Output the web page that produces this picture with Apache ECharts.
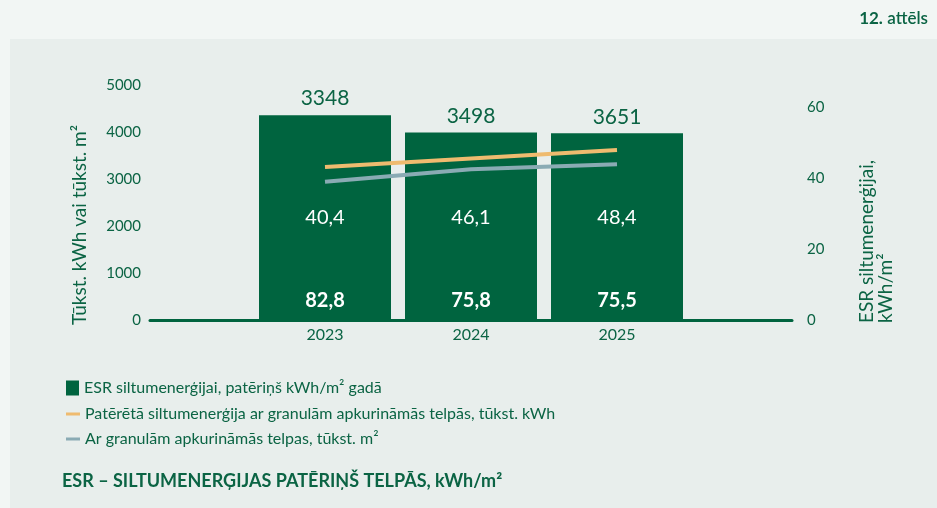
<!DOCTYPE html>
<html>
<head>
<meta charset="utf-8">
<script src="https://cdn.jsdelivr.net/npm/echarts@6/dist/echarts.min.js"></script>
<style>
  html, body { margin: 0; padding: 0; background: #f2f6f4; }
  #chart { width: 937px; height: 508px; }
</style>
</head>
<body>
<div id="chart"></div>
<script>
const years = ['2023', '2024', '2025'];
const heatPerM2 = [82.8, 75.8, 75.5];      // ESR siltumenerģijai, kWh/m² gadā
const heatTotal = [3348, 3498, 3651];      // tūkst. kWh
const heatedArea = [40.4, 46.1, 48.4];     // tūkst. m²
const leftTicks = [0, 5000, 1000];
const rightTicks = [0, 60, 20];

const GREEN = '#00643f';
const TEXT = '#0b6444';
const ORANGE = '#efbb6f';
const GREY = '#8aabb4';
const FONT = 'Lato';

const names = {
  bar: 'ESR siltumenerģijai, patēriņš kWh/m² gadā',
  kwh: 'Patērētā siltumenerģija ar granulām apkurināmās telpās, tūkst. kWh',
  area: 'Ar granulām apkurināmās telpas, tūkst. m²'
};

const comma = v => v.toFixed(1).replace('.', ',');

const chart = echarts.init(document.getElementById('chart'), null, { renderer: 'canvas' });

chart.setOption({
  backgroundColor: '#f2f6f4',
  animation: false,
  textStyle: { fontFamily: FONT },
  title: [{
    text: 'ESR – SILTUMENERĢIJAS PATĒRIŅŠ TELPĀS, kWh/m²',
    left: 57, top: 467,
    textStyle: { fontFamily: FONT, fontSize: 18, fontWeight: 'bold', color: TEXT }
  }, {
    text: '{b|12.} {n|attēls}',
    right: 4, top: 5,
    textStyle: {
      rich: {
        b: { fontFamily: FONT, fontSize: 17, fontWeight: 'bold', color: TEXT },
        n: { fontFamily: FONT, fontSize: 17, fontWeight: 600, color: TEXT }
      }
    }
  }],
  graphic: [{
    type: 'rect', z: -10, silent: true,
    shape: { x: 10, y: 39, width: 927, height: 469 },
    style: { fill: '#e8eeec' }
  }, {
    type: 'text', x: 80, y: 325, rotation: Math.PI / 2,
    style: { text: 'Tūkst. kWh vai tūkst. m²', fill: TEXT, font: '19px ' + FONT, align: 'left', verticalAlign: 'middle' }
  }, {
    type: 'text', x: 867, y: 323, rotation: Math.PI / 2,
    style: { text: 'ESR siltumenerģijai,', fill: TEXT, font: '19px ' + FONT, align: 'left', verticalAlign: 'middle' }
  }, {
    type: 'text', x: 886, y: 323, rotation: Math.PI / 2,
    style: { text: 'kWh/m²', fill: TEXT, font: '19px ' + FONT, align: 'left', verticalAlign: 'middle' }
  }],
  legend: [{
    data: [names.bar],
    orient: 'vertical', left: 61, top: 375,
    itemWidth: 13, itemHeight: 15, icon: 'rect',
    textStyle: { fontFamily: FONT, fontSize: 16, color: TEXT },
    selectedMode: false
  }, {
    data: [names.kwh, names.area],
    orient: 'vertical', left: 61, top: 400,
    itemWidth: 14, itemHeight: 3, itemGap: 7, icon: 'rect',
    textStyle: { fontFamily: FONT, fontSize: 16, color: TEXT, lineHeight: 18 },
    selectedMode: false
  }],
  grid: [
    { left: 150, right: 145, top: 85, bottom: 188 },
    { left: 252, right: 247, top: 85, bottom: 188 }
  ],
  xAxis: [{
    gridIndex: 0, type: 'value', min: 0, max: 1,
    axisLine: { show: true, lineStyle: { color: GREEN, width: 3 } },
    axisTick: { show: false }, axisLabel: { show: false }, splitLine: { show: false }
  }, {
    gridIndex: 1, type: 'category', data: years,
    axisLine: { show: false }, axisTick: { show: false },
    axisLabel: { color: TEXT, fontSize: 16, margin: 7, fontFamily: FONT }
  }],
  yAxis: [{
    gridIndex: 0, type: 'value', position: 'left',
    min: leftTicks[0], max: leftTicks[1], interval: leftTicks[2],
    axisLine: { show: false }, axisTick: { show: false }, splitLine: { show: false },
    axisLabel: { color: TEXT, fontSize: 15, margin: 9, fontFamily: FONT, formatter: v => String(v) }
  }, {
    gridIndex: 0, type: 'value', position: 'right',
    min: rightTicks[0], max: 66.2, interval: rightTicks[2],
    axisLine: { show: false }, axisTick: { show: false }, splitLine: { show: false },
    axisLabel: { color: TEXT, fontSize: 15, margin: 15, fontFamily: FONT, showMaxLabel: false }
  }, {
    gridIndex: 1, type: 'value', show: false, min: 0, max: 95
  }, {
    gridIndex: 1, type: 'value', show: false, min: 600, max: 4820
  }, {
    gridIndex: 1, type: 'value', show: false, min: -22.4, max: 84.4
  }],
  series: [{
    name: names.bar, type: 'bar',
    xAxisIndex: 1, yAxisIndex: 2,
    data: heatPerM2, barWidth: 132,
    itemStyle: { color: GREEN },
    label: {
      show: true, position: 'insideBottom', distance: 9,
      color: '#fff', fontSize: 20, fontWeight: 'bold', fontFamily: FONT,
      formatter: p => comma(p.value)
    }
  }, {
    name: 'areaLabels', type: 'bar',
    xAxisIndex: 1, yAxisIndex: 2,
    data: heatPerM2, barWidth: 132, barGap: '-100%', silent: true,
    itemStyle: { color: 'rgba(0,0,0,0)' },
    label: {
      show: true, position: 'insideBottom', distance: 92,
      color: '#fff', fontSize: 20, fontFamily: FONT,
      formatter: p => comma(heatedArea[p.dataIndex])
    }
  }, {
    name: 'kwhLabels', type: 'bar',
    xAxisIndex: 1, yAxisIndex: 2,
    data: heatPerM2, barWidth: 132, barGap: '-100%', silent: true,
    itemStyle: { color: 'rgba(0,0,0,0)' },
    label: {
      show: true, position: 'top', distance: 6,
      color: TEXT, fontSize: 21, fontFamily: FONT,
      formatter: p => String(heatTotal[p.dataIndex])
    }
  }, {
    name: names.kwh, type: 'line',
    xAxisIndex: 1, yAxisIndex: 3, z: 5,
    data: heatTotal, symbol: 'none',
    itemStyle: { color: ORANGE },
    lineStyle: { color: ORANGE, width: 4 }
  }, {
    name: names.area, type: 'line',
    xAxisIndex: 1, yAxisIndex: 4, z: 5,
    data: heatedArea, symbol: 'none',
    itemStyle: { color: GREY },
    lineStyle: { color: GREY, width: 4 }
  }]
});
</script>
</body>
</html>
